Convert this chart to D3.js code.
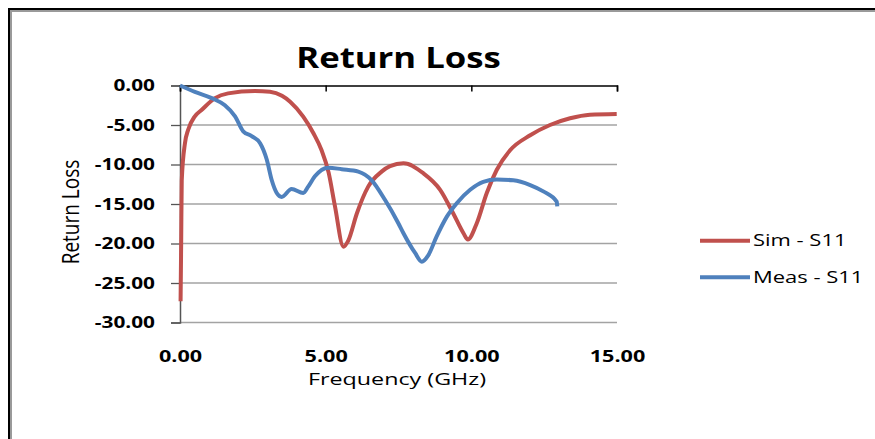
<!DOCTYPE html>
<html>
<head>
<meta charset="utf-8">
<script src="https://cdn.jsdelivr.net/npm/d3@7/dist/d3.min.js"></script>
<style>
	body { margin: 0; background: #fff; }
	svg { display: block; font-family: "Open Sans", sans-serif; }
</style>
</head>
<body>
<div id="chart"></div>
<script>
// frequency (GHz) / return loss (dB)
var simFreq = [0.02, 0.04, 0.06, 0.17, 0.28, 0.51, 0.74, 1.2, 1.65, 2.57, 3.09, 3.5, 3.78, 4.23, 4.58, 4.86, 5.1, 5.32, 5.61, 5.78, 6.07, 6.46, 6.92, 7.21, 7.67, 8.35, 8.93, 9.38, 9.73, 9.88, 10.19, 10.53, 10.87, 11.33, 12.02, 12.70, 13.39, 14.07, 14.99];
var simS11 = [-27.3, -20, -12, -7.3, -5.6, -3.9, -3.1, -1.6, -1.0, -0.7, -0.8, -1.3, -2.05, -3.95, -6.05, -8.2, -11.0, -15.3, -20.4, -19.6, -16.2, -12.8, -10.9, -10.2, -9.85, -11.1, -13.2, -16.2, -18.7, -19.5, -17.4, -13.6, -10.7, -8.2, -6.3, -5.0, -4.15, -3.7, -3.6];

var measFreq = [0, 0.51, 1.09, 1.54, 1.89, 2.17, 2.46, 2.75, 2.98, 3.15, 3.32, 3.49, 3.83, 4.23, 4.40, 4.63, 5.09, 5.55, 6.12, 6.58, 7.04, 7.49, 7.67, 8.07, 8.30, 8.52, 8.81, 9.16, 9.50, 9.96, 10.41, 10.87, 11.44, 12.02, 12.47, 12.93, 12.95];
var measS11 = [0, -0.8, -1.6, -2.5, -3.9, -5.8, -6.4, -7.3, -9.4, -12.0, -13.6, -14.1, -13.1, -13.6, -12.8, -11.5, -10.4, -10.6, -10.9, -12.0, -14.5, -17.4, -18.7, -21.2, -22.3, -21.5, -19.1, -16.6, -14.9, -13.2, -12.2, -11.9, -12.0, -12.6, -13.4, -14.7, -15.3];

var xTicks = [0, 5, 10, 15];
var yTicks = [0, -5, -10, -15, -20, -25, -30];
var seriesNames = ["Sim - S11", "Meas - S11"];
var seriesColors = ["#C0504D", "#4F81BD"];

var W = 875, H = 439;
var margin = {top: 85.5, right: 258, bottom: 116.5, left: 180};
var width = W - margin.left - margin.right;
var height = H - margin.top - margin.bottom;

// the picture is stretched sideways, so widen the glyphs
function stretch(sel, k) {
	sel.each(function() {
		var len = this.getComputedTextLength();
		d3.select(this)
			.attr("textLength", len * k)
			.attr("lengthAdjust", "spacingAndGlyphs");
	});
}

// plain hyphen like the original, not the unicode minus
var fmt = function(d) { return d3.format(".2f")(d).replace("\u2212", "-"); };

var svg = d3.select("#chart").append("svg")
	.attr("width", W)
	.attr("height", H);

// outer frame (right/bottom sides fall outside the picture)
svg.append("rect")
	.attr("x", 11).attr("y", 11)
	.attr("width", W).attr("height", H)
	.style("fill", "none").style("stroke", "#9a9a9a").style("stroke-width", 2);
svg.append("rect")
	.attr("x", 9).attr("y", 9)
	.attr("width", W).attr("height", H)
	.style("fill", "none").style("stroke", "#000").style("stroke-width", 2);

svg.append("text")
	.attr("x", 398.5).attr("y", 68)
	.style("text-anchor", "middle")
	.style("font-size", "28px")
	.style("font-weight", "bold")
	.text("Return Loss")
	.call(stretch, 1.24);

var g = svg.append("g")
	.attr("transform", "translate(" + margin.left + "," + margin.top + ")");

var x = d3.scaleLinear().domain([0, 15]).range([0, width]);
var y = d3.scaleLinear().domain([-30, 0]).range([height, 0]);

// gridlines
g.selectAll(".grid")
	.data(yTicks.filter(function(d) { return d != 0; }))
	.enter().append("line")
	.attr("class", "grid")
	.attr("x1", 0).attr("x2", width)
	.attr("y1", function(d) { return y(d); })
	.attr("y2", function(d) { return y(d); })
	.style("stroke", "#a3a3a3")
	.style("stroke-width", 1.3);

var yAxis = d3.axisLeft(y).tickValues(yTicks).tickFormat(fmt).tickSize(9).tickPadding(16);
var yG = g.append("g").call(yAxis);
yG.select(".domain").style("stroke", "#555").style("stroke-width", 1.5);
yG.selectAll(".tick line").style("stroke", "#555").style("stroke-width", 1.3);
yG.selectAll("text")
	.style("font-size", "16px")
	.style("font-weight", "bold")
	.style("font-family", "'Open Sans', sans-serif")
	.style("fill", "#000")
	.call(stretch, 1.3);

// horizontal axis crosses at 0 (top), ticks point down
var xTop = d3.axisTop(x).tickValues(xTicks).tickSize(-6).tickFormat("");
var xTopG = g.append("g").call(xTop);
xTopG.select(".domain").style("stroke", "#000").style("stroke-width", 1.5);
xTopG.selectAll(".tick line").style("stroke", "#000").style("stroke-width", 1.5);

// labels sit low
var xBottom = d3.axisBottom(x).tickValues(xTicks).tickFormat(fmt).tickSize(0).tickPadding(28);
var xG = g.append("g").attr("transform", "translate(0," + height + ")").call(xBottom);
xG.select(".domain").remove();
xG.selectAll("text")
	.style("font-size", "16px")
	.style("font-weight", "bold")
	.style("font-family", "'Open Sans', sans-serif")
	.style("fill", "#000")
	.call(stretch, 1.35);

svg.append("text")
	.attr("x", 397).attr("y", 385)
	.style("text-anchor", "middle")
	.style("font-size", "17px")
	.text("Frequency (GHz)")
	.call(stretch, 1.37);

svg.append("text")
	.attr("transform", "translate(71,212) scale(1.25,1) rotate(-90)")
	.attr("dy", ".35em")
	.style("text-anchor", "middle")
	.style("font-size", "19px")
	.text("Return Loss");

var line = d3.line()
	.x(function(d) { return x(d[0]); })
	.y(function(d) { return y(d[1]); })
	.curve(d3.curveMonotoneX);

var series = [
	d3.zip(simFreq, simS11),
	d3.zip(measFreq, measS11)
];

g.selectAll(".series")
	.data(series)
	.enter().append("path")
	.attr("class", "series")
	.attr("d", line)
	.style("fill", "none")
	.style("stroke", function(d, i) { return seriesColors[i]; })
	.style("stroke-width", 4)
	.style("stroke-linejoin", "round");

var legend = svg.selectAll(".legend")
	.data(seriesNames)
	.enter().append("g")
	.attr("class", "legend")
	.attr("transform", function(d, i) { return "translate(700," + (240.7 + i * 36.6) + ")"; });

legend.append("line")
	.attr("x1", 0).attr("x2", 50)
	.style("stroke", function(d, i) { return seriesColors[i]; })
	.style("stroke-width", 4);

legend.append("text")
	.attr("x", 53)
	.attr("dy", ".35em")
	.style("font-size", "16.5px")
	.text(function(d) { return d; })
	.call(stretch, 1.33);
</script>
</body>
</html>
